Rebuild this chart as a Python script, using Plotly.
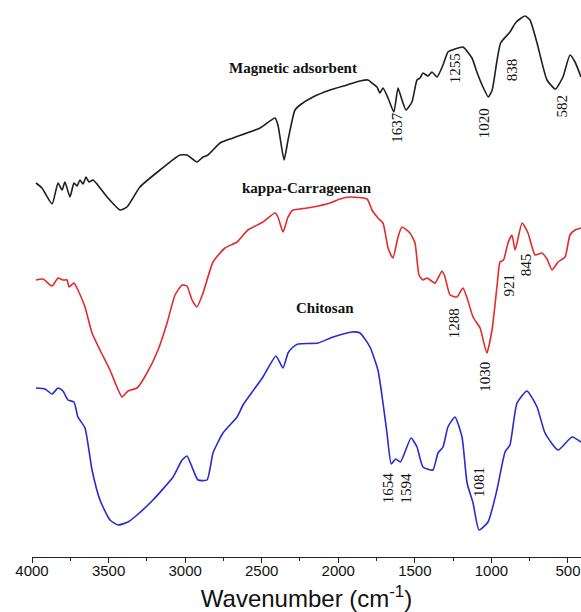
import plotly.graph_objects as go

# FTIR spectra (transmittance, arbitrary units, stacked)
mag_wn = [3974, 3935, 3869, 3830, 3804, 3785, 3752, 3726, 3706, 3687, 3667, 3647, 3628, 3602,
          3576, 3510, 3425, 3380, 3295, 3164, 3034, 2988, 2923, 2883, 2851, 2772, 2687, 2511,
          2413, 2394, 2354, 2328, 2283, 2250, 2165, 2054, 1943, 1858, 1806, 1780, 1747, 1728,
          1708, 1675, 1637, 1610, 1584, 1558, 1519, 1486, 1466, 1447, 1414, 1388, 1355, 1316,
          1284, 1255, 1186, 1127, 1095, 1055, 1020, 995, 965, 940, 879, 838, 781, 748, 702,
          637, 582, 533, 487, 454, 415]
mag_t = [74.8, 73.8, 70.6, 74.8, 73.4, 75.0, 72.0, 74.8, 74.2, 75.4, 74.6, 76.0, 75.0, 75.4,
         74.6, 72.0, 69.4, 70.0, 74.0, 77.4, 80.4, 80.4, 79.0, 80.0, 80.4, 82.8, 83.8, 85.8,
         87.8, 86.4, 79.4, 83.4, 89.4, 90.4, 92.0, 93.4, 94.4, 95.2, 95.4, 94.8, 94.0, 92.8,
         93.8, 91.8, 89.0, 93.8, 91.4, 89.4, 91.0, 95.4, 95.8, 96.8, 96.2, 97.0, 96.0, 98.4,
         101.0, 101.4, 102.0, 99.8, 97.0, 94.0, 92.0, 93.4, 99.0, 102.8, 105.0, 107.0, 108.2,
         107.4, 102.8, 95.4, 93.6, 96.0, 100.4, 99.0, 96.0]

kc_wn = [3974, 3928, 3869, 3830, 3798, 3771, 3758, 3726, 3700, 3654, 3608, 3556, 3491, 3412,
         3373, 3314, 3249, 3177, 3118, 3066, 3020, 2988, 2955, 2923, 2883, 2818, 2740, 2661,
         2590, 2492, 2413, 2394, 2361, 2328, 2296, 2250, 2165, 2054, 1989, 1923, 1812, 1780,
         1741, 1708, 1675, 1643, 1610, 1584, 1532, 1499, 1473, 1447, 1421, 1368, 1323, 1303,
         1270, 1225, 1186, 1159, 1120, 1074, 1030, 996, 964, 944, 921, 892, 866, 845, 800,
         761, 715, 670, 637, 604, 565, 519, 487, 454, 415]
kc_t = [55.4, 55.6, 54.2, 55.8, 55.4, 55.4, 54.0, 54.8, 53.4, 50.0, 44.8, 41.4, 37.4, 32.0,
        33.2, 33.8, 36.8, 41.4, 46.8, 52.4, 54.4, 54.2, 51.4, 50.0, 52.8, 59.0, 61.8, 63.0,
        65.4, 67.0, 68.8, 68.0, 65.0, 68.0, 69.4, 69.6, 70.0, 70.8, 71.6, 72.0, 71.6, 69.4,
        67.8, 66.8, 61.8, 59.8, 64.0, 66.0, 64.8, 62.8, 56.4, 55.4, 55.8, 54.8, 57.2, 56.0,
        52.4, 52.0, 53.8, 51.8, 48.0, 45.8, 40.8, 45.4, 54.0, 59.0, 59.4, 62.8, 64.4, 61.4,
        66.8, 64.8, 60.4, 60.8, 59.6, 57.4, 59.0, 60.0, 64.4, 65.4, 65.8]

chi_wn = [3974, 3915, 3869, 3830, 3798, 3765, 3726, 3700, 3654, 3608, 3556, 3491, 3438, 3373,
          3314, 3210, 3079, 3020, 2988, 2955, 2916, 2857, 2818, 2753, 2661, 2622, 2492, 2407,
          2361, 2328, 2302, 2263, 2132, 2034, 1910, 1858, 1793, 1741, 1708, 1682, 1654, 1625,
          1594, 1525, 1486, 1447, 1382, 1349, 1316, 1284, 1238, 1192, 1159, 1120, 1081, 1022,
          964, 911, 879, 833, 768, 702, 650, 565, 474, 415]
chi_t = [33.8, 33.6, 32.6, 33.8, 33.2, 31.4, 31.0, 28.0, 25.8, 17.4, 11.4, 7.4, 6.4, 7.0,
         8.4, 11.4, 16.0, 19.4, 20.2, 18.0, 15.4, 15.4, 20.8, 24.8, 28.0, 30.4, 36.0, 40.2,
         37.8, 40.8, 41.8, 42.6, 42.8, 44.0, 45.0, 44.8, 42.0, 37.4, 30.8, 24.8, 18.6, 19.6,
         19.0, 23.8, 22.0, 18.0, 17.4, 20.8, 22.0, 26.0, 28.0, 24.0, 14.8, 10.8, 5.4, 7.0,
         13.4, 21.0, 22.4, 30.8, 33.2, 30.0, 24.8, 21.4, 24.0, 23.0]

# Band assignments: (series, wavenumber, label height, horizontal nudge in px)
peak_series = ["mag", "mag", "mag", "mag", "mag", "kc", "kc", "kc", "kc", "chi", "chi", "chi"]
peak_wn = [1637, 1255, 1020, 838, 582, 1288, 1030, 921, 845, 1654, 1594, 1081]
peak_label_t = [86.0, 97.8, 86.8, 97.4, 90.2, 46.8, 36.0, 54.4, 58.4, 13.8, 13.8, 15.0]
peak_nudge = [3, 3, -4, -4, 7, 7, -2, 5, 11, -3, 6, 0]

series_names = ["Magnetic adsorbent", "kappa-Carrageenan", "Chitosan"]
name_wn = [2296, 2204, 2087]
name_t = [97.8, 73.8, 49.8]

colors = {"mag": "#1e1e1e", "kc": "#e42a2a", "chi": "#2a2ad2"}

fig = go.Figure()
for key, wn, t, nm in [("mag", mag_wn, mag_t, series_names[0]),
                       ("kc", kc_wn, kc_t, series_names[1]),
                       ("chi", chi_wn, chi_t, series_names[2])]:
    fig.add_trace(go.Scatter(x=wn, y=t, mode="lines", name=nm,
                             line=dict(color=colors[key], width=1.6, shape="spline",
                                       smoothing=0.5)))

annotations = []
for s, w, t, dx in zip(peak_series, peak_wn, peak_label_t, peak_nudge):
    annotations.append(dict(x=w, y=t, text=str(w), showarrow=False, textangle=-90,
                            xshift=dx, xanchor="center", yanchor="middle",
                            font=dict(family="Liberation Serif", size=15, color="#111")))
for nm, w, t in zip(series_names, name_wn, name_t):
    annotations.append(dict(x=w, y=t, text="<b>" + nm + "</b>", showarrow=False,
                            xanchor="center", yanchor="middle",
                            font=dict(family="Liberation Serif", size=15, color="#111")))

fig.update_layout(
    width=581, height=612,
    margin=dict(l=32, r=0, t=0, b=55),
    paper_bgcolor="white", plot_bgcolor="white",
    showlegend=False,
    annotations=annotations,
    xaxis=dict(
        range=[4000, 415], showgrid=False, zeroline=False,
        showline=True, linecolor="#222", linewidth=1.2,
        ticks="outside", ticklen=5, tickwidth=1.2, tickcolor="#222",
        tick0=0, dtick=500,
        minor=dict(ticks="outside", ticklen=3, tickwidth=1.2, tickcolor="#222", dtick=250),
        ticklabelstandoff=-5,
        tickfont=dict(family="Liberation Sans", size=15, color="#111"),
        title=dict(text="Wavenumber (cm<sup>-1</sup>)", standoff=12,
                   font=dict(family="Liberation Sans", size=24, color="#111")),
    ),
    yaxis=dict(range=[0, 111.4], visible=False, showgrid=False, zeroline=False),
)

fig.write_html("out.html")
